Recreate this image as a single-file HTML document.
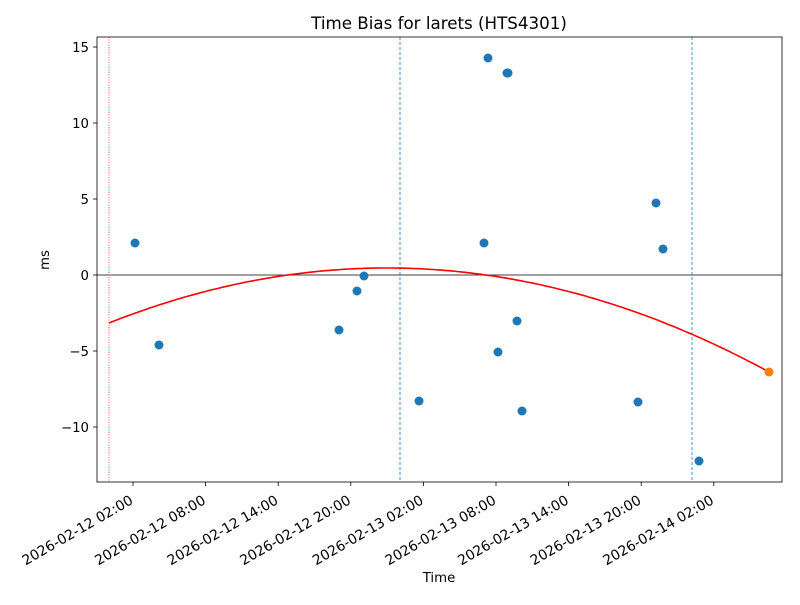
<!DOCTYPE html>
<html><head><meta charset="utf-8"><style>
body{margin:0;background:#fff;}
svg text{font-family:"DejaVu Sans","Liberation Sans",sans-serif;fill:#000;}
</style></head><body>
<svg id="s" width="800" height="600" xmlns="http://www.w3.org/2000/svg">
<rect width="800" height="600" fill="#fff"/>
<text x="439" y="29" font-size="16.7" text-anchor="middle">Time Bias for larets (HTS4301)</text>
<line x1="97" y1="275" x2="782" y2="275" stroke="#000" stroke-width="0.8"/>
<line x1="109" y1="37" x2="109" y2="482" stroke="#d62728" stroke-width="0.8" stroke-dasharray="1,1.5"/>
<line x1="400" y1="37" x2="400" y2="482" stroke="#1f77b4" stroke-width="0.8" stroke-dasharray="3,2"/>
<line x1="692" y1="37" x2="692" y2="482" stroke="#1f77b4" stroke-width="0.8" stroke-dasharray="3,2"/>
<polyline id="curve" fill="none" stroke="#ff0000" stroke-width="1.6"/>
<g fill="#1f77b4">
<circle cx="135" cy="243" r="4.5"/><circle cx="159" cy="345" r="4.5"/><circle cx="339" cy="330" r="4.5"/>
<circle cx="357" cy="291" r="4.5"/><circle cx="364" cy="276" r="4.5"/><circle cx="419" cy="401" r="4.5"/>
<circle cx="484" cy="243" r="4.5"/><circle cx="488" cy="58" r="4.5"/><circle cx="498" cy="352" r="4.5"/>
<circle cx="507" cy="73" r="4.5"/><circle cx="508" cy="73" r="4.5"/><circle cx="517" cy="321" r="4.5"/>
<circle cx="522" cy="411" r="4.5"/><circle cx="638" cy="402" r="4.5"/><circle cx="656" cy="203" r="4.5"/>
<circle cx="663" cy="249" r="4.5"/><circle cx="699" cy="461" r="4.5"/>
</g>
<circle cx="769" cy="372" r="4.5" fill="#ff7f0e"/>
<rect x="97" y="37" width="685" height="445" fill="none" stroke="#000" stroke-width="0.8"/>
<g id="yt" font-size="13.3"></g>
<g id="xt" font-size="13.9"></g>
<text x="439" y="582" font-size="13.3" text-anchor="middle">Time</text>
<text x="49" y="260" font-size="13.3" text-anchor="middle" transform="rotate(-90 49 260)">ms</text>
</svg>
<script>
var pts=[];for(var x=109;x<=769;x+=4){pts.push(x+","+(268+0.000712*(x-386.9)*(x-386.9)).toFixed(1));}
pts.push("769,"+(268+0.000712*382.1*382.1).toFixed(1));
document.getElementById("curve").setAttribute("points",pts.join(" "));
var yt=document.getElementById("yt"),h="";
[15,10,5,0,-5,-10].forEach(function(v){var y=275-15.2*v;
h+='<line x1="93" y1="'+y+'" x2="97" y2="'+y+'" stroke="#000" stroke-width="0.8"/><text x="89" y="'+(y+5)+'" text-anchor="end">'+(v<0?"\u2212"+(-v):v)+'</text>';});
yt.innerHTML=h;h="";
var labs=["2026-02-12 02:00","2026-02-12 08:00","2026-02-12 14:00","2026-02-12 20:00","2026-02-13 02:00","2026-02-13 08:00","2026-02-13 14:00","2026-02-13 20:00","2026-02-14 02:00"];
labs.forEach(function(l,i){var x=133+72.6*i;var ax=x+1,ay=503;
h+='<line x1="'+x+'" y1="482" x2="'+x+'" y2="486" stroke="#000" stroke-width="0.8"/><text x="'+ax+'" y="'+ay+'" text-anchor="end" transform="rotate(-30 '+ax+' '+ay+')">'+l+'</text>';});
document.getElementById("xt").innerHTML=h;
</script>
</body></html>
